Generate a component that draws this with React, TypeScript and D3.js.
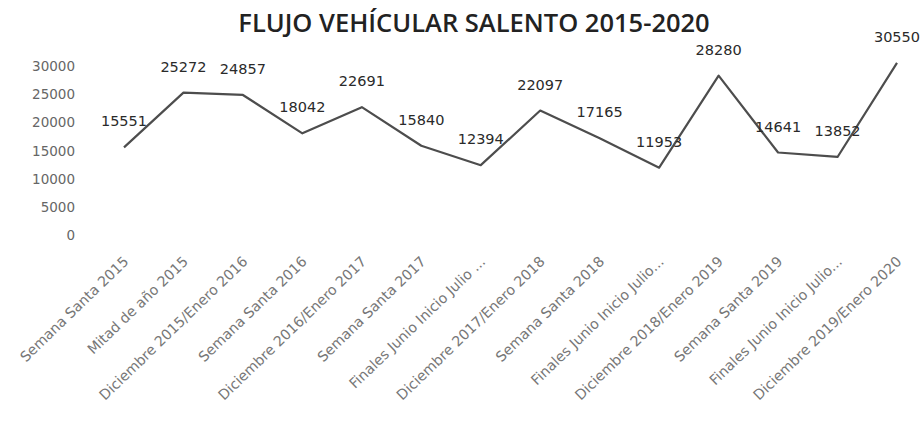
import React from "react";
import * as d3 from "d3";

const categories = [
  "Semana Santa 2015",
  "Mitad de año 2015",
  "Diciembre 2015/Enero 2016",
  "Semana Santa 2016",
  "Diciembre 2016/Enero 2017",
  "Semana Santa 2017",
  "Finales Junio Inicio Julio ...",
  "Diciembre 2017/Enero 2018",
  "Semana Santa 2018",
  "Finales Junio Inicio Julio...",
  "Diciembre 2018/Enero 2019",
  "Semana Santa 2019",
  "Finales Junio Inicio Julio...",
  "Diciembre 2019/Enero 2020",
];

const values = [15551, 25272, 24857, 18042, 22691, 15840, 12394, 22097, 17165, 11953, 28280, 14641, 13852, 30550];

const yTicks = [0, 5000, 10000, 15000, 20000, 25000, 30000];

const title = "FLUJO VEHÍCULAR SALENTO 2015-2020";

const W = 923;
const H = 421;

export default function App() {
  const x = d3.scalePoint<number>().domain(d3.range(categories.length)).range([124, 897]);
  const y = d3.scaleLinear().domain([0, 30000]).range([235, 66]);
  const line = d3
    .line<number>()
    .x((_, i) => x(i) as number)
    .y((d) => y(d));

  return (
    <svg
      width={W}
      height={H}
      style={{ position: "absolute", left: 0, top: 0, background: "#fff" }}
      fontFamily="'DejaVu Sans', sans-serif"
    >
      <text
        x={474}
        y={22}
        textAnchor="middle"
        dominantBaseline="central"
        fontFamily="'Open Sans', sans-serif"
        fontWeight={600}
        fontSize={25.5}
        fill="#222"
      >
        {title}
      </text>

      {yTicks.map((t) => (
        <text
          key={t}
          x={75}
          y={y(t)}
          textAnchor="end"
          dominantBaseline="central"
          fontSize={13.5}
          fill="#666"
        >
          {t}
        </text>
      ))}

      <path d={line(values) || ""} fill="none" stroke="#4d4d4d" strokeWidth={2.2} strokeLinejoin="round" />

      {values.map((v, i) => (
        <text
          key={i}
          x={x(i) as number}
          y={y(v) - 26}
          textAnchor="middle"
          dominantBaseline="central"
          fontSize={14.5}
          fill="#2a2a2a"
        >
          {v}
        </text>
      ))}

      {categories.map((c, i) => (
        <text
          key={c + i}
          transform={`translate(${(x(i) as number) + 2},${259}) rotate(-44)`}
          textAnchor="end"
          dominantBaseline="central"
          fontSize={14.2}
          fill="#777"
        >
          {c}
        </text>
      ))}
    </svg>
  );
}
